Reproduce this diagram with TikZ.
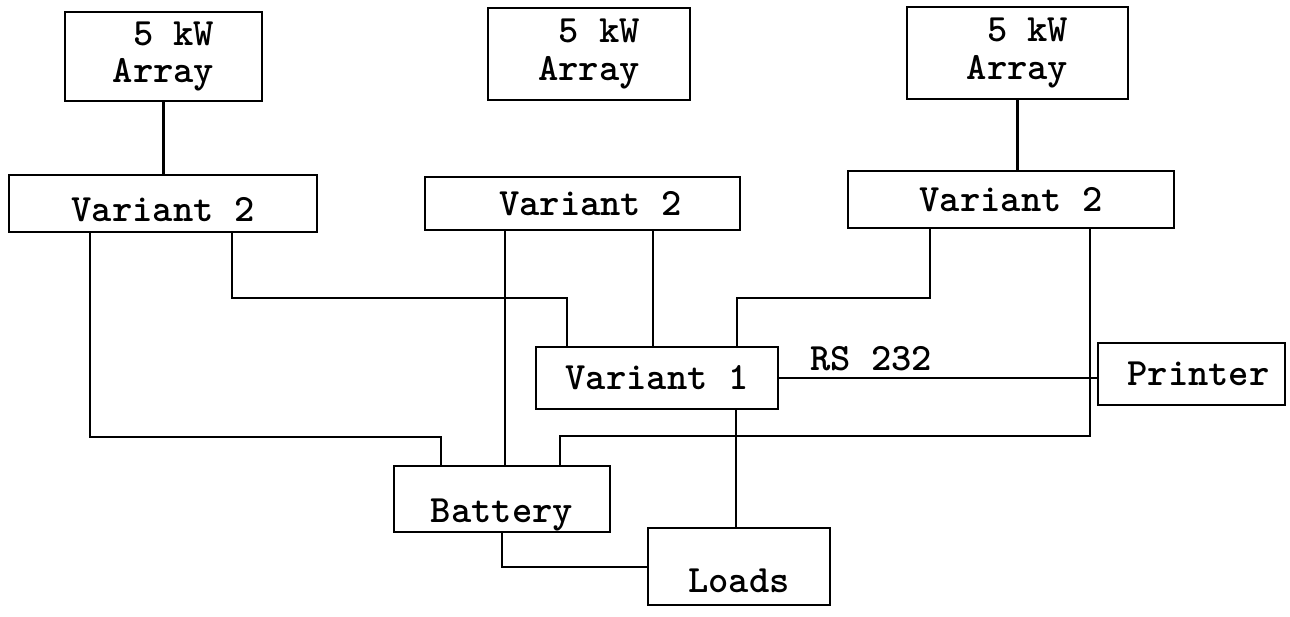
\documentclass[tikz,border=0pt]{standalone}
\usepackage{fontspec}
\usetikzlibrary{positioning}
\tikzset{
  blk/.style={draw, line width=1.6pt, inner sep=0pt,
    font=\ttfamily\bfseries\fontsize{22}{21.5}\selectfont},
  lbl/.style={font=\ttfamily\bfseries\fontsize{22}{21.5}\selectfont},
  wire/.style={line width=1.6pt},
}
\newcommand{\dn}[2]{\raisebox{-#1}[\height][\depth]{#2}}

\begin{document}
\begin{tikzpicture}[x=0.02cm, y=-0.02cm]
  \useasboundingbox (0,0) rectangle (1290,617);
  % arrays
  \node[blk, align=right, minimum width=3.94cm, minimum height=1.78cm] (arrL) at (163.5,56.5) {5 kW\\Array\hspace{0.16cm}};
  \node[blk, align=right, minimum width=4.04cm, minimum height=1.84cm] (arrM) at (589,54) {5 kW\\Array};
  \node[blk, align=right, minimum width=4.42cm, minimum height=1.84cm] (arrR) at (1017.5,53) {5 kW\\Array};
  % controllers
  \node[blk, minimum width=6.16cm, minimum height=1.14cm] (v2L) at (163,203.5) {\dn{0.12cm}{Variant 2}\hspace{0.64cm}};
  \node[blk, minimum width=6.3cm, minimum height=1.06cm] (v2M) at (582.5,203.5) {\hspace{0.32cm}Variant 2};
  \node[blk, minimum width=6.52cm, minimum height=1.14cm] (v2R) at (1011,199.5) {Variant 2};
  \node[blk, minimum width=4.84cm, minimum height=1.24cm] (v1) at (657,378) {Variant 1\hspace{0.28cm}};
  \node[blk, minimum width=3.74cm, minimum height=1.24cm] (prn) at (1191.5,374) {\hspace{0.28cm}Printer};
  \node[blk, minimum width=4.32cm, minimum height=1.32cm] (bat) at (502,499) {\dn{0.32cm}{Battery}};
  \node[blk, minimum width=3.64cm, minimum height=1.54cm] (lds) at (739,566.5) {\dn{0.28cm}{Loads}\hspace{0.32cm}};

  \draw[wire] (arrL.south) -- (arrL.south |- v2L.north);
  \draw[wire] (arrR.south) -- (arrR.south |- v2R.north);

  \draw[wire] (v2L.south -| 90,0) -- (90,437) -| (bat.north -| 441,0);
  \draw[wire] (v2L.south -| 232,0) -- (232,298) -| (v1.north -| 567,0);
  \draw[wire] (v2M.south -| 505,0) -- (bat.north -| 505,0);
  \draw[wire] (v2M.south -| 653,0) -- (v1.north -| 653,0);
  \draw[wire] (v2R.south -| 930,0) -- (930,298) -| (v1.north -| 737,0);
  \draw[wire] (v2R.south -| 1090,0) -- (1090,436) -| (bat.north -| 560,0);

  \draw[wire] (v1.east) -- node[lbl, pos=0.29, above] (rs) {RS 232} (v1.east -| prn.west);
  \draw[wire] (v1.south -| 736,0) -- (lds.north -| 736,0);
  \draw[wire] (bat.south -| 502,0) -- (502,567) -- (lds.west |- 0,567);
\end{tikzpicture}
\end{document}
